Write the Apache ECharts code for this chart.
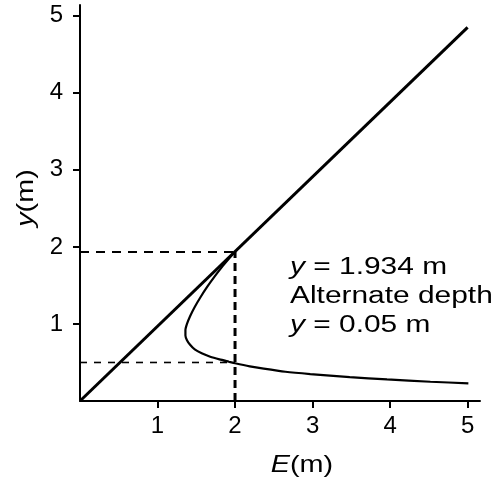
<!DOCTYPE html>
<html>
<head>
<meta charset="utf-8">
<script src="https://cdn.jsdelivr.net/npm/echarts@6/dist/echarts.min.js"></script>
<style>
  html, body { margin: 0; padding: 0; background: #fff; }
  #chart { width: 497px; height: 485px; }
</style>
</head>
<body>
<div id="chart"></div>
<script>
// Specific energy diagram: E = y reference line and the specific energy curve
const diagonalE = [0, 5];
const diagonalY = [0, 4.85];

// Specific energy curve, upper (subcritical) branch through the nose to the lower branch
const curveE = [1.995, 1.93, 1.84, 1.74, 1.64, 1.55, 1.48, 1.42, 1.38, 1.36, 1.36, 1.38, 1.42, 1.48, 1.57, 1.68, 1.80, 1.92, 2.00, 2.19, 2.37, 2.65, 2.97, 3.48, 3.96, 4.52, 5.01];
const curveY = [1.934, 1.86, 1.75, 1.62, 1.48, 1.34, 1.22, 1.10, 1.00, 0.92, 0.85, 0.79, 0.73, 0.67, 0.62, 0.575, 0.54, 0.51, 0.49, 0.45, 0.42, 0.38, 0.35, 0.31, 0.28, 0.25, 0.23];

// Depths and energy marked with dashed guides
const depthUpper = 1.934;
const depthLower = 0.5;
const energyMark = 2;

// Axis ticks
const xTicks = [1, 2, 3, 4, 5];
const yTicks = [1, 2, 3, 4, 5];

// Annotation lines
const noteLines = ['{i|y} = 1.934 m', 'Alternate depth', '{i|y} = 0.05 m'];

const FONT = 'Liberation Sans, Arial, sans-serif';

const zip = (a, b) => a.map((v, i) => [v, b[i]]);

const chart = echarts.init(document.getElementById('chart'), null, { renderer: 'canvas' });

const axisCommon = {
  type: 'value',
  min: 0,
  interval: 1,
  splitLine: { show: false },
  axisLine: { show: true, lineStyle: { color: '#000', width: 2 } },
  axisTick: { show: true, length: 7, lineStyle: { color: '#000', width: 2 } }
};

const textStyleBase = { fontFamily: FONT, fill: '#000' };
const italicRich = (size) => ({ i: { fontStyle: 'italic', fontFamily: FONT, fontSize: size } });

chart.setOption({
  animation: false,
  backgroundColor: '#fff',
  grid: { left: 80, right: 17, top: 5, bottom: 84, containLabel: false },
  xAxis: Object.assign({}, axisCommon, {
    max: 5.16,
    axisTick: Object.assign({}, axisCommon.axisTick, { customValues: xTicks }),
    axisLabel: { customValues: xTicks, color: '#000', fontFamily: FONT, fontSize: 24, margin: 13 }
  }),
  yAxis: Object.assign({}, axisCommon, {
    max: 5.14,
    axisTick: Object.assign({}, axisCommon.axisTick, { customValues: yTicks }),
    axisLabel: { customValues: yTicks, color: '#000', fontFamily: FONT, fontSize: 24, margin: 17 }
  }),
  series: [
    {
      type: 'line',
      data: zip(diagonalE, diagonalY),
      symbol: 'none',
      lineStyle: { color: '#000', width: 3 },
      z: 3
    },
    {
      type: 'line',
      data: zip(curveE, curveY),
      symbol: 'none',
      smooth: 0.2,
      lineStyle: { color: '#000', width: 2.2 },
      z: 3
    },
    {
      type: 'line',
      data: [[0, depthUpper], [energyMark, depthUpper]],
      symbol: 'none',
      lineStyle: { color: '#000', width: 2, type: [9, 7] },
      z: 2
    },
    {
      type: 'line',
      data: [[0, depthLower], [energyMark, depthLower]],
      symbol: 'none',
      lineStyle: { color: '#000', width: 1.6, type: [7, 7] },
      z: 2
    },
    {
      type: 'line',
      data: [[energyMark, 0], [energyMark, depthUpper]],
      symbol: 'none',
      lineStyle: { color: '#000', width: 3, type: [8, 5] },
      z: 2
    }
  ],
  graphic: [
    ...noteLines.map((t, i) => ({
      type: 'text',
      x: 290,
      y: 268 + i * 29,
      scaleX: 1.3,
      style: Object.assign({}, textStyleBase, {
        text: t,
        fontSize: 23,
        verticalAlign: 'middle',
        align: 'left',
        rich: italicRich(23)
      })
    })),
    {
      type: 'text',
      x: 302,
      y: 465,
      scaleX: 1.2,
      style: Object.assign({}, textStyleBase, {
        text: '{i|E}(m)',
        fontSize: 24,
        align: 'center',
        verticalAlign: 'middle',
        rich: italicRich(24)
      })
    },
    {
      type: 'text',
      x: 26,
      y: 198,
      rotation: Math.PI / 2,
      scaleX: 1.2,
      style: Object.assign({}, textStyleBase, {
        text: '{i|y}(m)',
        fontSize: 24,
        align: 'center',
        verticalAlign: 'middle',
        rich: italicRich(24)
      })
    }
  ]
});
</script>
</body>
</html>
